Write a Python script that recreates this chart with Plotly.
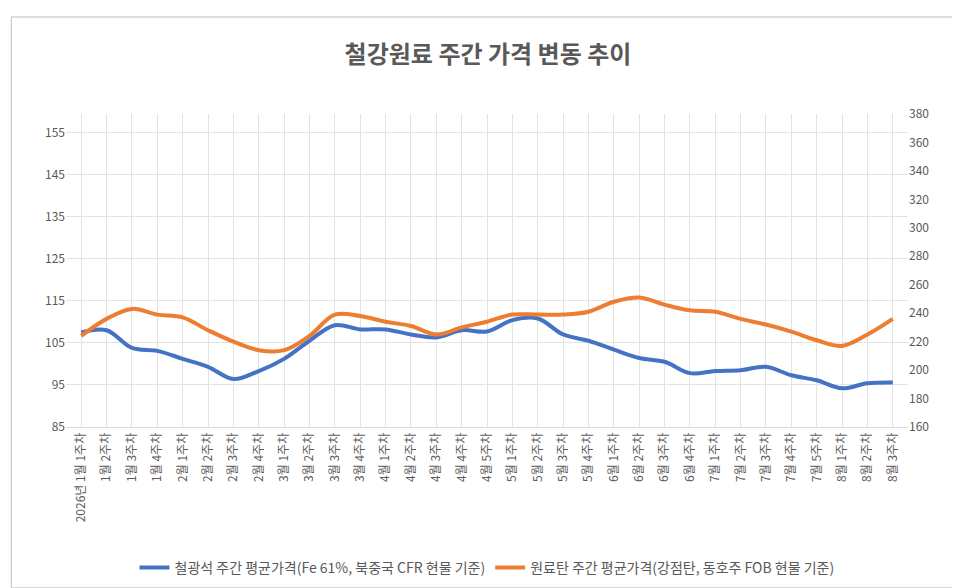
import plotly.graph_objects as go

months = [1]*4 + [2]*4 + [3]*4 + [4]*5 + [5]*4 + [6]*4 + [7]*5 + [8]*3
weeks = [1,2,3,4]*3 + [1,2,3,4,5] + [1,2,3,4]*2 + [1,2,3,4,5] + [1,2,3]
categories = [f"{m}월 {w}주차" for m, w in zip(months, weeks)]
categories[0] = "2026년 1월 1주차"

iron_ore = [107.5, 108, 103.8, 103.1, 101.2, 99.3, 96.4, 98.3, 101.2, 105.5, 109.2, 108.2,
            108.2, 107, 106.3, 108, 107.7, 110.4, 110.8, 107, 105.5, 103.4, 101.4, 100.5,
            97.8, 98.3, 98.5, 99.3, 97.3, 96.1, 94.2, 95.4, 95.6]
coking_coal = [224, 236, 243, 239, 237, 228, 220, 214, 214, 224, 239, 238, 234, 231, 225, 230,
               234, 239, 239, 239, 241, 248, 251, 246, 242, 241, 236, 232, 227, 221, 217, 225, 236]

font = "Noto Sans CJK KR"
fig = go.Figure()
fig.add_trace(go.Scatter(x=categories, y=iron_ore, mode="lines", line=dict(color="#4472C4", width=4, shape="spline"),
                         name="철광석 주간 평균가격(Fe 61%, 북중국 CFR 현물 기준)"))
fig.add_trace(go.Scatter(x=categories, y=coking_coal, mode="lines", line=dict(color="#ED7D31", width=4, shape="spline"),
                         name="원료탄 주간 평균가격(강점탄, 동호주 FOB 현물 기준)", yaxis="y2"))
fig.update_layout(
    width=960, height=588, paper_bgcolor="white", plot_bgcolor="white",
    font=dict(family=font, color="#595959", size=12),
    title=dict(text="<b>철강원료 주간 가격 변동 추이</b>", x=0.5, y=0.92, xanchor="center", yanchor="middle",
               font=dict(size=24, color="#595959", family=font)),
    margin=dict(l=58, r=60, t=106, b=163),
    xaxis=dict(tickangle=-90, showgrid=True, gridcolor="#E3E3E3", linecolor="#D9D9D9",
               tickfont=dict(size=12), range=[-0.6, 32.6]),
    yaxis=dict(range=[85, 159.4], tickvals=[85,95,105,115,125,135,145,155], showgrid=True,
               gridcolor="#E3E3E3", zeroline=False, tickfont=dict(size=12)),
    yaxis2=dict(range=[160, 380], dtick=20, overlaying="y", side="right", showgrid=False,
                zeroline=False, tickfont=dict(size=12)),
    legend=dict(orientation="h", x=0.5, xanchor="center", y=-0.45, yanchor="middle",
                font=dict(size=14, color="#595959")),
    shapes=[dict(type="rect", xref="paper", yref="paper", x0=-0.065, x1=1.068, y0=-0.514, y1=1.31,
                 line=dict(color="#BFBFBF", width=1))],
)
fig.write_html("out.html")
